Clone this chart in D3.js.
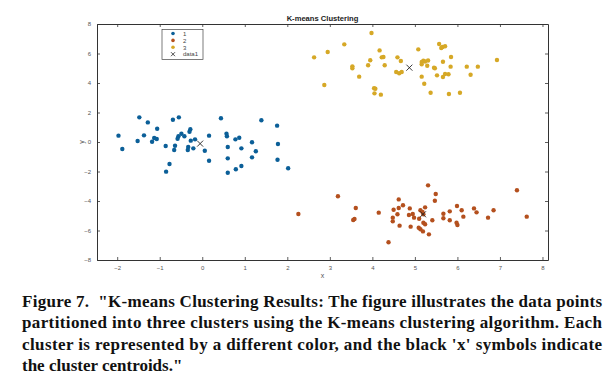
<!DOCTYPE html>
<html>
<head>
<meta charset="utf-8">
<script src="https://cdn.jsdelivr.net/npm/d3@7"></script>
<style>
  body { margin: 0; background: #fff; }
  svg { display: block; }
</style>
</head>
<body>
<div id="chart"></div>
<script>
/* K-means scatter, MATLAB look */
const cluster1 = [
  [-1.48,1.67],[-1.28,1.33],[-0.69,1.51],[-0.55,1.67],[-1.06,0.90],[-1.97,0.43],[-1.37,0.45],[-1.52,0.07],
  [-1.88,-0.47],[-1.13,0.27],[-1.07,0.20],[-1.18,0.02],[-0.86,-0.27],[-0.64,-0.25],[-0.66,-0.54],[-0.28,0.86],
  [-0.30,0.70],[-0.49,0.56],[-0.56,0.39],[-0.58,0.22],[-0.42,0.39],[-0.27,0.09],[-0.17,0.18],[-0.33,-0.34],
  [-0.34,-0.54],[-0.21,-0.43],[-0.77,-1.49],[-0.85,-2.01],[0.44,1.61],[1.39,1.47],[1.76,1.11],[0.16,0.43],
  [0.57,0.56],[0.58,0.39],[0.78,0.18],[0.87,0.29],[1.17,-0.02],[0.92,-0.43],[0.60,-0.34],[0.06,-0.59],
  [1.26,-0.63],[1.78,-0.14],[0.16,-1.27],[0.60,-1.11],[1.17,-1.04],[1.77,-1.20],[0.92,-1.63],[0.79,-1.85],
  [0.60,-2.08],[2.02,-1.78]
];
const cluster2 = [
  [2.26,-4.88],[3.19,-3.68],[3.61,-4.47],[3.55,-5.29],[3.58,-5.22],[4.15,-4.79],[4.38,-6.80],[4.62,-3.89],
  [4.72,-4.29],[4.62,-4.47],[4.50,-4.59],[4.59,-4.90],[4.48,-5.13],[4.48,-5.38],[4.64,-5.67],[4.88,-4.50],
  [4.86,-4.95],[4.95,-4.88],[4.90,-5.74],[4.98,-5.13],[5.31,-2.94],[5.49,-3.53],[5.47,-3.98],[5.24,-4.43],
  [5.13,-4.63],[5.18,-4.75],[5.10,-5.20],[5.41,-5.31],[5.20,-5.47],[5.24,-5.58],[5.09,-5.81],[5.13,-5.92],
  [5.19,-6.06],[5.33,-6.26],[5.67,-4.86],[5.67,-5.17],[5.82,-4.70],[5.82,-5.31],[5.99,-4.34],[6.10,-4.63],
  [5.98,-5.47],[6.00,-5.63],[6.14,-5.06],[6.39,-4.50],[6.45,-4.77],[6.72,-5.13],[6.85,-4.63],[7.40,-3.27],
  [7.63,-5.06],[5.20,-4.90]
];
const cluster3 = [
  [3.98,7.39],[3.34,6.62],[2.95,6.10],[2.63,5.74],[4.17,6.21],[4.22,5.74],[4.26,5.76],[3.95,5.54],
  [3.90,5.20],[4.29,5.20],[3.53,5.13],[3.53,5.00],[4.59,5.74],[4.67,5.49],[4.56,4.75],[4.63,4.66],
  [4.69,4.75],[3.69,4.43],[2.87,3.86],[4.04,3.64],[4.07,3.61],[4.05,3.30],[4.20,3.21],[5.57,6.64],
  [5.65,6.44],[5.71,6.49],[5.62,6.37],[5.08,6.28],[5.85,5.76],[5.31,5.53],[5.20,5.51],[5.16,5.42],
  [5.24,5.46],[5.16,5.27],[5.29,5.17],[5.66,5.44],[5.47,5.00],[5.45,5.04],[5.84,5.11],[6.22,5.11],
  [6.48,5.11],[6.93,5.56],[5.71,4.61],[5.79,4.59],[5.52,4.52],[5.66,4.41],[6.31,4.56],[5.16,4.43],
  [5.22,3.95],[5.37,3.34],[5.80,3.25],[6.06,3.34]
];
const centroids = [[-0.05,-0.11],[5.19,-4.90],[4.87,5.04]];
const xTicks = [-2,-1,0,1,2,3,4,5,6,7,8];
const yTicks = [-8,-6,-4,-2,0,2,4,6,8];
const legendLabels = ["1","2","3","data1"];
const colors = ["#0b5f98","#b4501e","#d6a826"];
const captionLines = [
  "Figure 7.  \"K-means Clustering Results: The figure illustrates the data points",
  "partitioned into three clusters using the K-means clustering algorithm. Each",
  "cluster is represented by a different color, and the black 'x' symbols indicate",
  "the cluster centroids.\""
];

const width = 613, height = 389,
      margin = ({ top: 24, right: 65, bottom: 129, left: 97 });

let svg = d3.select("#chart")
  .append("svg")
  .attr("width", width)
  .attr("height", height)
  .style("font-family", "Liberation Sans, Arial, sans-serif");

let x = d3.scaleLinear()
  .domain([-2.475, 8.13])
  .range([margin.left, width - margin.right]);

let y = d3.scaleLinear()
  .domain([-8, 8])
  .range([height - margin.bottom, margin.top]);

const axisColor = "#333";

// axes with ticks pointing inward, MATLAB box style
let gx = svg.append("g")
  .attr("transform", `translate(0,${height - margin.bottom})`)
  .call(d3.axisBottom(x).tickValues(xTicks).tickSizeInner(-3).tickSizeOuter(0).tickPadding(6));
let gxTop = svg.append("g")
  .attr("transform", `translate(0,${margin.top})`)
  .call(d3.axisTop(x).tickValues(xTicks).tickSizeInner(-3).tickSizeOuter(0).tickFormat(""));
let gy = svg.append("g")
  .attr("transform", `translate(${margin.left},0)`)
  .call(d3.axisLeft(y).tickValues(yTicks).tickSizeInner(-3).tickSizeOuter(0).tickPadding(6));
let gyRight = svg.append("g")
  .attr("transform", `translate(${width - margin.right},0)`)
  .call(d3.axisRight(y).tickValues(yTicks).tickSizeInner(-3).tickSizeOuter(0).tickFormat(""));

[gx, gxTop, gy, gyRight].forEach(g => {
  g.select(".domain").attr("stroke", axisColor).attr("stroke-width", 1);
  g.selectAll(".tick line").attr("stroke", axisColor).attr("stroke-width", 0.8);
  g.selectAll(".tick text").attr("fill", "#555").style("font-size", "6px");
});

// axis labels
svg.append("text")
  .text("x")
  .attr("x", (margin.left + width - margin.right) / 2)
  .attr("y", height - margin.bottom + 18)
  .attr("text-anchor", "middle")
  .style("font-size", "7px")
  .attr("fill", "#555");
svg.append("text")
  .text("y")
  .attr("transform", `translate(84,${y(0)}) rotate(-90)`)
  .attr("text-anchor", "middle")
  .style("font-size", "7px")
  .attr("fill", "#555");

// title
svg.append("text")
  .text("K-means Clustering")
  .attr("x", (margin.left + width - margin.right) / 2)
  .attr("y", 20.5)
  .attr("text-anchor", "middle")
  .style("font-size", "7.6px")
  .style("font-weight", "bold")
  .attr("fill", "#222");

// points
[cluster1, cluster2, cluster3].forEach((pts, i) => {
  svg.append("g")
    .selectAll("circle")
    .data(pts)
    .join("circle")
    .attr("cx", d => x(d[0]))
    .attr("cy", d => y(d[1]))
    .attr("r", 2.2)
    .attr("fill", colors[i]);
});

// centroids as x marks
const xs = 3;
svg.append("g")
  .selectAll("path")
  .data(centroids)
  .join("path")
  .attr("d", d => `M${x(d[0]) - xs},${y(d[1]) - xs}L${x(d[0]) + xs},${y(d[1]) + xs}M${x(d[0]) - xs},${y(d[1]) + xs}L${x(d[0]) + xs},${y(d[1]) - xs}`)
  .attr("stroke", "#222")
  .attr("stroke-width", 0.9)
  .attr("fill", "none");

// legend
let legend = svg.append("g").attr("transform", "translate(162,29.5)");
legend.append("rect")
  .attr("width", 41)
  .attr("height", 30)
  .attr("fill", "#fff")
  .attr("stroke", "#444")
  .attr("stroke-width", 0.7);
let item = legend.selectAll(".item")
  .data(legendLabels)
  .join("g")
  .attr("class", "item")
  .attr("transform", (d, i) => `translate(0,${4 + i * 6.9})`);
item.filter((d, i) => i < 3).append("circle")
  .attr("cx", 11)
  .attr("cy", 0)
  .attr("r", 1.8)
  .attr("fill", (d, i) => colors[i]);
item.filter((d, i) => i === 3).append("path")
  .attr("d", "M9,-2L13,2M9,2L13,-2")
  .attr("stroke", "#222")
  .attr("stroke-width", 0.8);
item.append("text")
  .text(d => d)
  .attr("x", 21)
  .attr("y", 2.2)
  .style("font-size", "6px")
  .attr("fill", "#444");

// caption, justified
let cap = svg.append("g")
  .style("font-family", "Liberation Serif, Times New Roman, serif")
  .style("font-weight", "bold")
  .style("font-size", "17px")
  .attr("fill", "#111");
cap.selectAll("text")
  .data(captionLines)
  .join("text")
  .text(d => d)
  .attr("x", 22)
  .attr("y", (d, i) => 307 + i * 21.3)
  .style("white-space", "pre")
  .attr("textLength", (d, i) => i < 3 ? 580 : null)
  .attr("lengthAdjust", "spacing");
</script>
</body>
</html>
